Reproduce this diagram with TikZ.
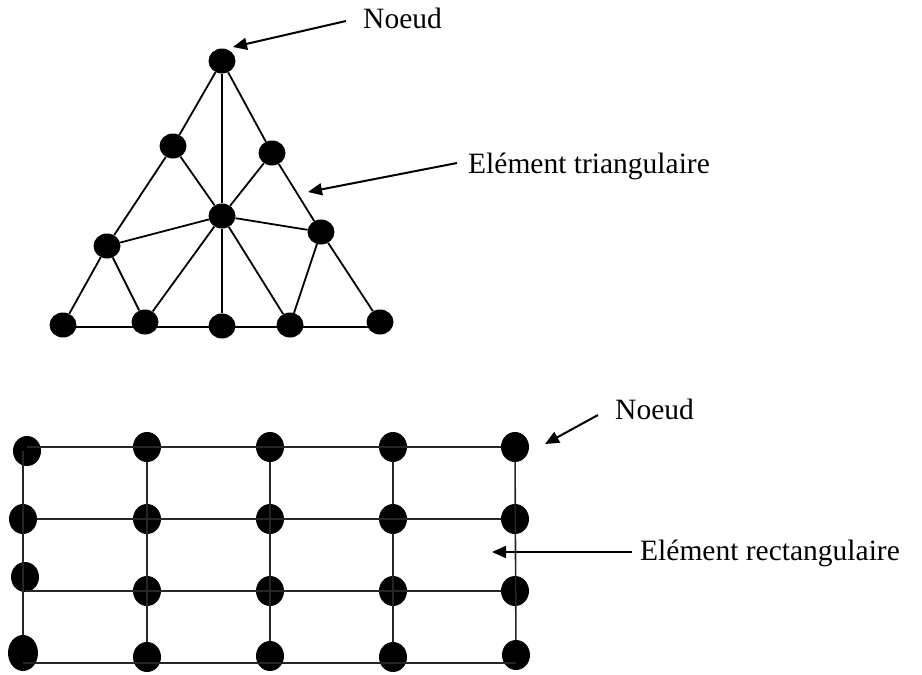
\documentclass[tikz,border=0pt]{standalone}
\usepackage{fontspec}
\setmainfont{Liberation Serif}
\usetikzlibrary{shapes.geometric,arrows.meta}
\begin{document}
\begin{tikzpicture}[x=1pt,y=-1pt,
  dot/.style={ellipse,fill=black,draw=none,inner sep=0pt,minimum width=27pt,minimum height=25pt},
  gdot/.style={ellipse,fill=black,draw=none,inner sep=0pt,minimum width=28pt,minimum height=30pt},
  mesh/.style={line width=1.8pt,black},
  grid line/.style={line width=1.6pt,black!85},
  pointer/.style={line width=2pt,-{Triangle[length=14pt,width=12pt]}},
  label/.style={inner sep=0pt,anchor=base west,font=\fontsize{29.5}{35}\selectfont}]
\useasboundingbox (0,0) rectangle (922,675);

% ---------- triangular mesh ----------
\node[dot] (top) at (222,61) {};
\node[dot] (ul)  at (173,146) {};
\node[dot] (ur)  at (272,153) {};
\node[dot] (c)   at (222,216) {};
\node[dot] (ll)  at (107,246) {};
\node[dot] (lr)  at (321,232) {};
\node[dot] (b1)  at (63,325) {};
\node[dot] (b2)  at (145,322) {};
\node[dot] (b3)  at (222,326) {};
\node[dot] (b4)  at (290,325) {};
\node[dot] (b5)  at (380,322) {};
\coordinate (base) at (0,327);

\draw[mesh] (top) -- (ul) -- (ll) -- (b1);
\draw[mesh] (top) -- (ur) -- (lr) -- (b5);
\draw[mesh] (top) -- (c) -- (b3);
\draw[mesh] (b1 |- base) -- (b5 |- base);
\draw[mesh] (ul) -- (c) -- (ur);
\draw[mesh] (ll) -- (c) -- (lr);
\draw[mesh] (ll) -- (b2) -- (c) -- (b4) -- (lr);

% ---------- rectangular mesh ----------
\node[gdot] (g11) at (27,451) {};
\node[gdot] (g12) at (147,447) {};
\node[gdot] (g13) at (270,447) {};
\node[gdot] (g14) at (393,447) {};
\node[gdot] (g15) at (515,447) {};
\node[gdot] (g21) at (23,519) {};
\node[gdot] (g22) at (147,519) {};
\node[gdot] (g23) at (270,519) {};
\node[gdot] (g24) at (393,519) {};
\node[gdot] (g25) at (515,519) {};
\node[gdot] (g31) at (25,577) {};
\node[gdot] (g32) at (147,591) {};
\node[gdot] (g33) at (270,591) {};
\node[gdot] (g34) at (393,591) {};
\node[gdot] (g35) at (515,591) {};
\node[gdot,minimum width=30pt,minimum height=36pt] (g41) at (23,653) {};
\node[gdot] (g42) at (147,657) {};
\node[gdot] (g43) at (270,656) {};
\node[gdot] (g44) at (393,657) {};
\node[gdot] (g45) at (516,655) {};
\coordinate (r4) at (0,663);

\draw[grid line] (g11 |- g12) -- (g15);
\draw[grid line,line width=2.2pt] (g21) -- (g25);
\draw[grid line] (g31 |- g32) -- (g35);
\draw[grid line] (g41 |- r4) -- (g45 |- r4);
\draw[grid line] (g11 -| g21) -- (g41);
\draw[grid line] (g12) -- (g42);
\draw[grid line] (g13) -- (g43);
\draw[grid line,line width=2.2pt] (g14) -- (g24);
\draw[grid line] (g24) -- (g44);
\draw[grid line] (g15) -- (g45);

% ---------- labels and pointers ----------
\node[label] (n1) at (363,28) {Noeud};
\node[label] (t1) at (468,173) {Elément triangulaire};
\node[label] (n2) at (615,419) {Noeud};
\node[label] (t2) at (640,560) {Elément rectangulaire};

\coordinate (n1s) at (346,21);
\coordinate (n1e) at (233,47);
\coordinate (t1s) at (457,163);
\coordinate (t1e) at (308,192);
\coordinate (n2s) at (598,415);
\coordinate (n2e) at (545,444);
\coordinate (t2s) at (632,552);
\coordinate (t2e) at (492,552);

\draw[pointer] (n1s) -- (n1e);
\draw[pointer] (t1s) -- (t1e);
\draw[pointer] (n2s) -- (n2e);
\draw[pointer] (t2s) -- (t2e);
\end{tikzpicture}
\end{document}
